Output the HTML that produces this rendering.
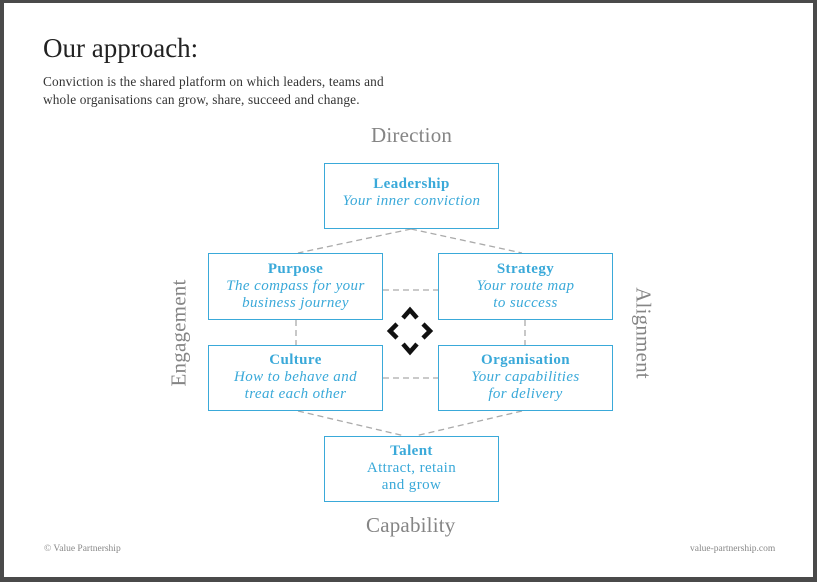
<!DOCTYPE html>
<html><head><meta charset="utf-8"><style>
body{margin:0;width:817px;height:582px;background:#4a4a4a;overflow:hidden;position:relative;font-family:"Liberation Serif",serif}
.page{position:absolute;left:4px;top:3px;width:809px;height:574px;background:#fff}
.t{position:absolute;white-space:nowrap}
.box{position:absolute;border:1.5px solid #3aa9d9;box-sizing:border-box;color:#3aa9d9;text-align:center;font-size:15px;letter-spacing:0.4px;line-height:17px;background:#fff}
.box b{display:block;margin-top:12px;font-size:15px}
.box i{display:block}
.lab{position:absolute;color:#858585;font-size:21px;letter-spacing:0.2px}
</style></head><body>
<div class="page"></div>
<div class="t" style="left:43px;top:33px;font-size:27px;color:#222">Our approach:</div>
<div class="t" style="left:43px;top:73px;font-size:13.3px;letter-spacing:0.15px;line-height:18px;color:#333">Conviction is the shared platform on which leaders, teams and<br>whole organisations can grow, share, succeed and change.</div>
<svg style="position:absolute;left:0;top:0" width="817" height="582">
<g stroke="#aaa" stroke-width="1.3" stroke-dasharray="6,4" fill="none">
<line x1="411" y1="229" x2="298" y2="253"/><line x1="411" y1="229" x2="522" y2="253"/>
<line x1="383" y1="290" x2="438" y2="290"/><line x1="383" y1="378" x2="438" y2="378"/>
<line x1="296" y1="320" x2="296" y2="345"/><line x1="525" y1="320" x2="525" y2="345"/>
<line x1="298" y1="411" x2="405" y2="436"/><line x1="522" y1="411" x2="415" y2="436"/>
</g>
<g stroke="#111" stroke-width="4.5" fill="none" stroke-linejoin="miter">
<polyline points="403,318 410,310 417,318"/><polyline points="403,344 410,352 417,344"/>
<polyline points="397,324 390,331 397,338"/><polyline points="423,324 430,331 423,338"/>
</g>
</svg>
<div class="lab" style="left:371px;top:123px">Direction</div>
<div class="lab" style="left:366px;top:513px">Capability</div>
<div class="lab" style="left:179px;top:333px;transform:translate(-50%,-50%) rotate(-90deg)">Engagement</div>
<div class="lab" style="left:643px;top:333px;transform:translate(-50%,-50%) rotate(90deg)">Alignment</div>
<div class="box" style="left:324px;top:163px;width:175px;height:66px"><b>Leadership</b><i>Your inner conviction</i></div>
<div class="box" style="left:208px;top:253px;width:175px;height:67px"><b style="margin-top:7px">Purpose</b><i>The compass for your<br>business journey</i></div>
<div class="box" style="left:438px;top:253px;width:175px;height:67px"><b style="margin-top:7px">Strategy</b><i>Your route map<br>to success</i></div>
<div class="box" style="left:208px;top:345px;width:175px;height:66px"><b style="margin-top:6px">Culture</b><i>How to behave and<br>treat each other</i></div>
<div class="box" style="left:438px;top:345px;width:175px;height:66px"><b style="margin-top:6px">Organisation</b><i>Your capabilities<br>for delivery</i></div>
<div class="box" style="left:324px;top:436px;width:175px;height:66px"><b style="margin-top:6px">Talent</b>Attract, retain<br>and grow</div>
<div class="t" style="left:44px;top:544px;font-size:9.5px;color:#888">© Value Partnership</div>
<div class="t" style="left:690px;top:544px;font-size:9.5px;color:#888">value-partnership.com</div>
</body></html>
